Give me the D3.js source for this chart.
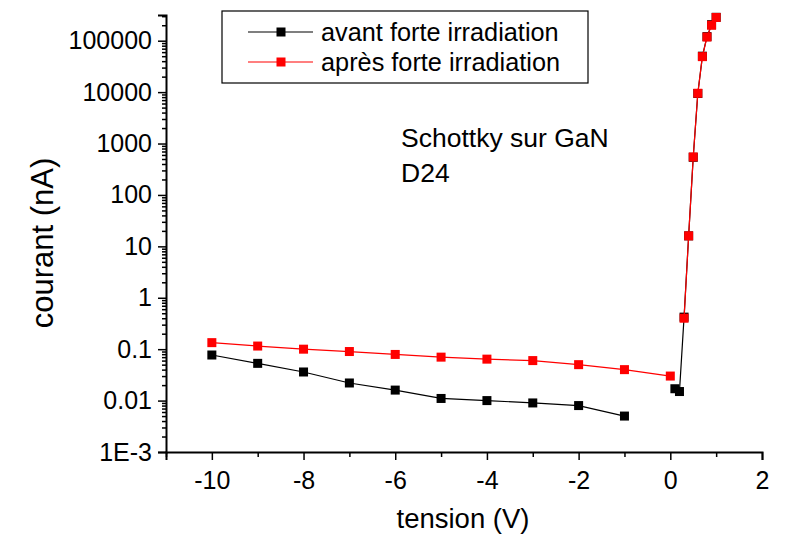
<!DOCTYPE html>
<html>
<head>
<meta charset="utf-8">
<script src="https://cdn.jsdelivr.net/npm/d3@7"></script>
<style>
  html, body { margin: 0; padding: 0; background: #fff; }
  svg { display: block; font-family: "Liberation Sans", Arial, sans-serif; }
</style>
</head>
<body>
<svg id="chart" width="789" height="536"></svg>
<script>
// Tension (V) and current (nA) for the two measurement runs; null breaks the line.
const voltsAvant = [-10, -9, -8, -7, -6, -5, -4, -3, -2, -1, null, 0.1, 0.2, 0.3, 0.4, 0.5, 0.6, 0.7, 0.8, 0.9, 1.0];
const courantAvant = [0.077, 0.053, 0.036, 0.022, 0.016, 0.011, 0.010, 0.009, 0.008, 0.005, null, 0.017, 0.015, 0.42, 16, 540, 9400, 50000, 120000, 205000, 285000];

const voltsApres = [-10, -9, -8, -7, -6, -5, -4, -3, -2, -1, 0, null, 0.3, 0.4, 0.5, 0.6, 0.7, 0.8, 0.9, 1.0];
const courantApres = [0.134, 0.115, 0.10, 0.09, 0.079, 0.070, 0.064, 0.060, 0.050, 0.040, 0.030, null, 0.40, 16, 548, 9500, 49000, 118000, 200000, 283000];

const seriesNames = ["avant forte irradiation", "après forte irradiation"];
const seriesColors = ["#000000", "#ff0000"];

const xTicks = [-10, -8, -6, -4, -2, 0, 2];
const xTickLabels = ["-10", "-8", "-6", "-4", "-2", "0", "2"];
const xMinorTicks = [-11, -9, -7, -5, -3, -1, 1];
const yTicks = [1e-3, 1e-2, 1e-1, 1, 10, 100, 1000, 10000, 100000];
const yTickLabels = ["1E-3", "0.01", "0.1", "1", "10", "100", "1000", "10000", "100000"];

const annotation = ["Schottky sur GaN", "D24"];

const svg = d3.select("#chart");
const plotLeft = 166, plotRight = 762, plotTop = 15, plotBottom = 452;

const x = d3.scaleLinear().domain([-11, 2]).range([plotLeft, plotRight]);
const y = d3.scaleLog().domain([1e-3, Math.pow(10, 5.5)]).range([plotBottom, plotTop]);

// minor log ticks 2..9 per decade
const yMinor = [];
for (let e = -3; e <= 5; e++) {
  for (let m = 2; m <= 9; m++) {
    const v = m * Math.pow(10, e);
    if (v <= Math.pow(10, 5.5)) yMinor.push(v);
  }
}

// X axis
const gx = svg.append("g").attr("transform", `translate(0,${plotBottom})`);
gx.call(d3.axisBottom(x).tickValues(xTicks).tickSize(8).tickPadding(6)
  .tickFormat((d, i) => xTickLabels[i]));
gx.append("g").call(d3.axisBottom(x).tickValues(xMinorTicks).tickSize(5).tickFormat(""))
  .call(g => g.select(".domain").remove());

// Y axis
const gy = svg.append("g").attr("transform", `translate(${plotLeft},0)`);
gy.call(d3.axisLeft(y).tickValues(yTicks).tickSize(8).tickPadding(6)
  .tickFormat((d, i) => yTickLabels[i]));
gy.append("g").call(d3.axisLeft(y).tickValues(yMinor).tickSize(4).tickFormat(""))
  .call(g => g.select(".domain").remove());

svg.selectAll(".domain").attr("stroke", "#000").attr("stroke-width", 2);
svg.selectAll(".tick line").attr("stroke", "#000").attr("stroke-width", 1.5);
svg.selectAll(".tick text").attr("fill", "#000").attr("font-size", 25)
  .attr("font-family", "Liberation Sans, Arial, sans-serif");
gx.selectAll(".tick text").attr("dy", "0.92em");

// Axis titles
svg.append("text").attr("x", (plotLeft + plotRight) / 2 - 1).attr("y", 528)
  .attr("text-anchor", "middle").attr("font-size", 27.5).text("tension (V)");
svg.append("text").attr("transform", "translate(53,243) rotate(-90)")
  .attr("text-anchor", "middle").attr("font-size", 31).text("courant (nA)");

// Series
const series = [
  { xs: voltsAvant, ys: courantAvant, color: seriesColors[0] },
  { xs: voltsApres, ys: courantApres, color: seriesColors[1] }
];
const line = d3.line()
  .defined(d => d[0] !== null && d[1] !== null)
  .x(d => x(d[0])).y(d => y(d[1]));
const ms = 9;
series.forEach(s => {
  const pts = s.xs.map((v, i) => [v, s.ys[i]]);
  svg.append("path").datum(pts).attr("d", line)
    .attr("fill", "none").attr("stroke", s.color).attr("stroke-width", 1.2);
  svg.append("g").selectAll("rect").data(pts.filter(d => d[0] !== null))
    .join("rect")
    .attr("x", d => x(d[0]) - ms / 2).attr("y", d => y(d[1]) - ms / 2)
    .attr("width", ms).attr("height", ms).attr("fill", s.color);
});

// Legend
const lg = svg.append("g");
lg.append("rect").attr("x", 222).attr("y", 11).attr("width", 366).attr("height", 72)
  .attr("fill", "#fff").attr("stroke", "#000").attr("stroke-width", 1.2);
seriesNames.forEach((name, i) => {
  const cy = 32 + i * 30;
  lg.append("line").attr("x1", 248).attr("x2", 313).attr("y1", cy).attr("y2", cy)
    .attr("stroke", seriesColors[i]).attr("stroke-width", 1.2);
  lg.append("rect").attr("x", 281 - ms / 2).attr("y", cy - ms / 2)
    .attr("width", ms).attr("height", ms).attr("fill", seriesColors[i]);
  lg.append("text").attr("x", 321).attr("y", cy + 8.5).attr("font-size", 25.3).text(name);
});

// Annotation
annotation.forEach((t, i) => {
  svg.append("text").attr("x", 401).attr("y", 147 + i * 35).attr("font-size", 26.5).text(t);
});
</script>
</body>
</html>
